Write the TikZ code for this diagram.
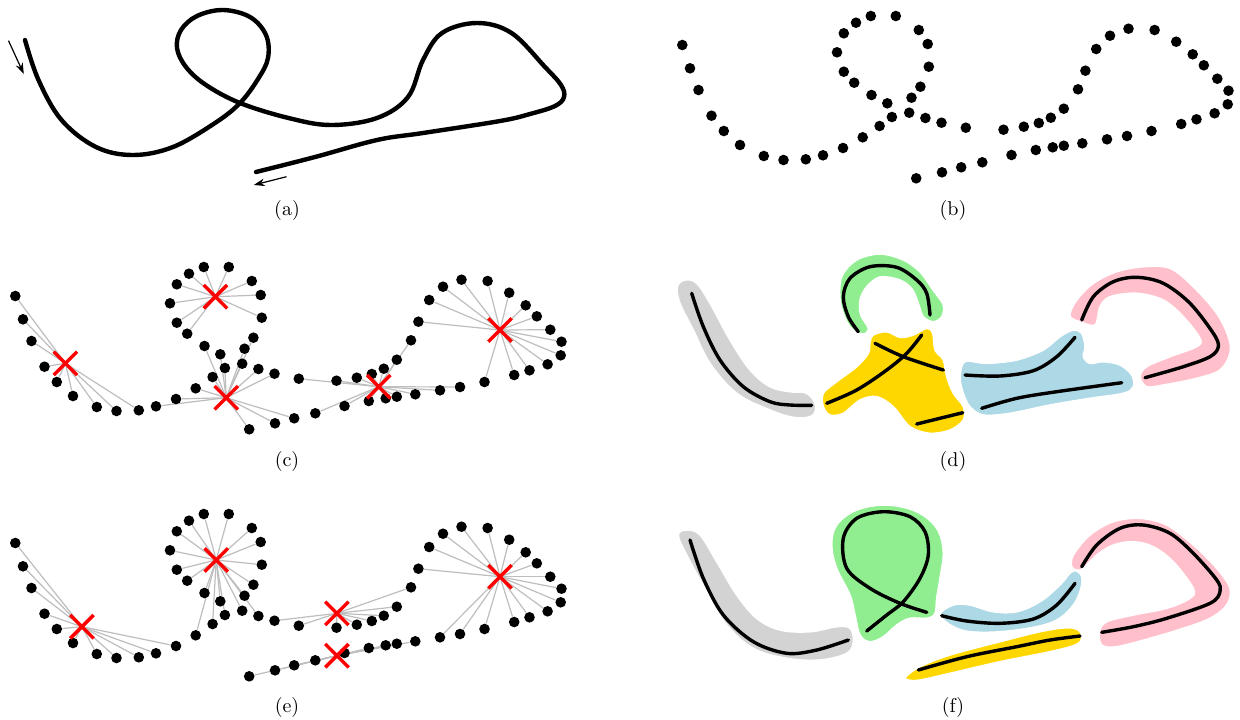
\documentclass[tikz,border=0pt]{standalone}
\usetikzlibrary{arrows.meta,shapes.misc}
\definecolor{blobgray}{RGB}{211,211,211}
\definecolor{blobgreen}{RGB}{144,238,144}
\definecolor{blobgold}{RGB}{255,215,0}
\definecolor{blobblue}{RGB}{173,216,230}
\definecolor{blobpink}{RGB}{255,192,203}
\definecolor{linkgray}{RGB}{190,190,190}
\pgfdeclarelayer{back}
\pgfdeclarelayer{bg}
\pgfdeclarelayer{fg}
\pgfsetlayers{back,bg,main,fg}
\begin{document}
\begin{tikzpicture}[x=0.5pt,y=-0.5pt,
  dotnode/.style={circle,fill=black,inner sep=0pt,minimum size=5.3pt},
  link/.style={draw=linkgray,line width=0.6pt},
  xmark/.style={cross out,draw=red,line width=1.7pt,inner sep=0pt,minimum size=10pt},
  thickcurve/.style={line width=2.2pt,line cap=round,line join=round},
  seg/.style={line width=1.7pt,line cap=round,line join=round},
  blob/.style={draw=white,line width=0.8pt},
  captext/.style={font=\normalsize,inner sep=0pt},
  arr/.style={line width=0.6pt,-{Stealth[length=5.5pt,width=3.8pt]}}]

\begin{pgfonlayer}{back}
\path[use as bounding box,fill=white] (0,0) rectangle (1240,719);
\end{pgfonlayer}

\def\dotlist{682.3/45,690/68.3,698.5/90,711.5/115.7,723.8/131,740/145,763.8/156,783.5/160,805.8/159.3,823/155.3,843/148,862.7/137.3,879.6/126,891.9/117,911.5/97.7,920.4/86.7,928.8/66.7,927.7/44,918.8/30,895.8/16,870.8/16,856/22.7,843.8/33.3,837/52.3,843.8/71.7,854.2/82.7,871.5/95,887.3/103.3,909.2/112.7,925.4/118,941.5/122.7,965.8/127.7,1003.5/129.7,1023.8/126.7,1038.8/123,1050.8/117.7,1063.8/108.7,1078/89.3,1085.4/70.7,1096.2/49,1110/35.7,1128.5/28.7,1154.6/30,1176.2/41.7,1192.7/54.3,1203.8/65.3,1217.3/78.7,1228.5/90.7,1227.7/104.3,1214.6/113.3,1196.5/119.3,1181.2/124,1151.5/131,1127/136,1107/139.3,1082.3/143.3,1063.8/145.7,1052.7/147.3,1035.8/150,1011.5/155,982.3/162.3,961.2/167.3,942/172.3,916.2/178.3}

% ---------- (a) ----------
\draw[thickcurve] plot[smooth,tension=0.6] coordinates {(25,40) (38.5,80) (61.5,120) (96,147) (133,155) (173,147) (215,123) (240,103) (258,79) (268,58) (266,35) (250,17) (223,10) (197,16) (181,30) (177,48) (186,67) (206,85) (240,103) (288.5,118) (331,125) (377,118) (408,97) (423,60) (442,33) (477,23) (511.5,33) (545,67) (561,85) (564,97) (555,106) (530,114) (500,121) (423,133) (377,140) (315,157) (256,172)};
\coordinate (a1s) at (8.5,40.7);
\coordinate (a1e) at (23.8,74);
\coordinate (a2s) at (286.5,176.7);
\coordinate (a2e) at (253.8,185);
\draw[arr] (a1s) -- (a1e);
\draw[arr] (a2s) -- (a2e);
\node[captext] (capa) at (287,210) {(a)};

% ---------- (b) ----------
\foreach \px/\py [count=\i] in \dotlist {\node[dotnode] (b\i) at (\px,\py) {};}
\node[captext] (capb) at (953,210) {(b)};

% ---------- (c) ----------
\begin{scope}[shift={(-667,251)}]
  \foreach \px/\py [count=\i] in \dotlist {\node[dotnode] (c\i) at (\px,\py) {};}
  \begin{pgfonlayer}{fg}
    \node[xmark] (cX1) at (732.4,112.3) {};
    \node[xmark] (cX2) at (882.4,45.7) {};
    \node[xmark] (cX3) at (893.2,146.7) {};
    \node[xmark] (cX4) at (1045.8,135.7) {};
    \node[xmark] (cX5) at (1167,79) {};
  \end{pgfonlayer}
  \begin{pgfonlayer}{bg}
    \foreach \i in {1,...,9} {\draw[link] (cX1.center) -- (c\i);}
    \foreach \i in {17,...,26} {\draw[link] (cX2.center) -- (c\i);}
    \foreach \i in {10,11,12,13,14,15,16,27,28,29,30,31,62,63,64} {\draw[link] (cX3.center) -- (c\i);}
    \foreach \i in {32,33,34,35,36,37,38,54,55,56,57,58,59,60,61} {\draw[link] (cX4.center) -- (c\i);}
    \foreach \i in {39,...,53} {\draw[link] (cX5.center) -- (c\i);}
  \end{pgfonlayer}
\end{scope}
\node[captext] (capc) at (287,461) {(c)};

% ---------- (e) ----------
\begin{scope}[shift={(-667,498)}]
  \foreach \px/\py [count=\i] in \dotlist {\node[dotnode] (e\i) at (\px,\py) {};}
  \begin{pgfonlayer}{fg}
    \node[xmark] (eX1) at (748.9,128.7) {};
    \node[xmark] (eX2) at (883.2,62) {};
    \node[xmark] (eX3) at (1003.9,115.3) {};
    \node[xmark] (eX4) at (1003.9,157.7) {};
    \node[xmark] (eX5) at (1167,78.7) {};
  \end{pgfonlayer}
  \begin{pgfonlayer}{bg}
    \foreach \i in {1,...,11} {\draw[link] (eX1.center) -- (e\i);}
    \foreach \i in {12,...,30} {\draw[link] (eX2.center) -- (e\i);}
    \foreach \i in {31,...,38} {\draw[link] (eX3.center) -- (e\i);}
    \foreach \i in {56,...,64} {\draw[link] (eX4.center) -- (e\i);}
    \foreach \i in {39,...,55} {\draw[link] (eX5.center) -- (e\i);}
  \end{pgfonlayer}
\end{scope}
\node[captext] (cape) at (287,707) {(e)};

% ---------- (d) ----------
\fill[blobgray,blob] plot[smooth cycle,tension=0.6] coordinates {(677.3,286.7) (685,280) (696.7,283.3) (710,303.3) (730,340) (750,370) (770,386.7) (790,391.7) (805,392.7) (813.3,400) (815.7,410) (810,416.7) (793.3,417.3) (770,410) (736.7,393.3) (710,363.3) (693.3,330) (680,303.3)};
\fill[blobgreen,blob] plot[smooth cycle,tension=0.55] coordinates {(863.3,334) (852,329) (845,318) (840,300) (841.7,276.7) (856.7,260) (880,254) (903.3,260) (920,272) (933,290) (943.3,305) (941.7,316.7) (933.3,321.7) (923.3,316.7) (918.3,303.3) (912,289) (900,280) (880,277) (866.7,286.7) (860,300) (860.7,315) (868.3,328.3)};
\fill[blobgold,blob] plot[smooth cycle,tension=0.55] coordinates {(873.3,335) (886.7,331.7) (900,337.3) (913.3,335) (926.7,328.3) (932.7,333.3) (935,350) (943.3,360) (946.7,376.7) (953.3,393.3) (963.3,406.7) (963.3,420) (950,430) (930,433.3) (910,426.7) (893.3,406.7) (876.7,396.7) (860,400) (843.3,413.3) (830,415) (823.3,406.7) (823.3,393.3) (836.7,381.7) (856.7,366.7) (868.3,353.3) (870,341.7)};
\fill[blobblue,blob] plot[smooth cycle,tension=0.55] coordinates {(965,361.7) (986.7,363.3) (1016.7,360) (1043.3,350) (1060,336.7) (1073.3,330) (1081.7,333.3) (1085,346.7) (1083.3,356.7) (1090,363.3) (1103.3,361.7) (1120,365) (1131.7,375) (1133.3,386.7) (1123.3,393.3) (1090,398.3) (1050,405) (1010,413.3) (983.3,415) (970,406.7) (963.3,393.3) (960,376.7)};
\fill[blobpink,blob] plot[smooth cycle,tension=0.55] coordinates {(1070,313.3) (1076.7,300) (1093.3,283.3) (1116.7,271.7) (1143.3,266.7) (1170,268.3) (1193.3,286.7) (1216.7,313.3) (1228.3,336.7) (1230,353.3) (1220,370) (1196.7,378.3) (1163.3,385) (1146.7,386.7) (1140,376.7) (1146.7,366.7) (1170,356.7) (1196.7,346.7) (1200,338.3) (1183.3,316.7) (1163.3,300) (1136.7,293.3) (1110,296.7) (1100,306.7) (1095,325) (1080,321.7) (1071.7,318.3)};
\draw[seg] plot[smooth,tension=0.55] coordinates {(691.7,293.3) (703.3,326.7) (720,360) (743.3,386.7) (770,401.7) (790,405) (811.7,405.3)};
\draw[seg] plot[smooth,tension=0.55] coordinates {(858.3,331.7) (848.3,316.7) (843.3,296.7) (850,278.3) (870,266.7) (896.7,267.3) (916.7,280) (926.7,293.3) (930,315)};
\draw[seg] plot[smooth,tension=0.55] coordinates {(826.7,403.3) (856.7,390) (886.7,370) (906.7,353.3) (921.7,335)};
\draw[seg] plot[smooth,tension=0.55] coordinates {(875,343.3) (903.3,356.7) (943.3,370)};
\draw[seg] plot[smooth,tension=0.55] coordinates {(916.7,424) (962.7,412.7)};
\draw[seg] plot[smooth,tension=0.55] coordinates {(965,375) (1000,376) (1033.3,370.7) (1056.7,356.7) (1075,337.3)};
\draw[seg] plot[smooth,tension=0.55] coordinates {(981.7,408.3) (1016.7,398.3) (1056.7,391.7) (1121.7,382.7)};
\draw[seg] plot[smooth,tension=0.55] coordinates {(1081.7,320) (1093.3,296.7) (1113.3,281.7) (1136.7,277.3) (1163.3,283.3) (1190,303.3) (1213.3,333.3) (1218.3,346.7) (1210,356.7) (1183.3,366.7) (1145,377.7)};
\node[captext] (capd) at (953,461) {(d)};

% ---------- (f) ----------
\fill[blobgray,blob] plot[smooth cycle,tension=0.6] coordinates {(678.3,535) (686.7,530) (700,535) (716.7,561.7) (736.7,595) (756.7,618.3) (780,630) (810,631.7) (836.7,626.7) (850,628.3) (853.3,641.7) (846.7,653.3) (820,660) (786.7,658.3) (753.3,648.3) (726.7,625) (706.7,591.7) (686.7,555)};
\fill[blobgreen,blob] plot[smooth cycle,tension=0.6] coordinates {(831.7,545) (836.7,525) (856.7,510) (886.7,505) (916.7,511.7) (936.7,528.3) (943.3,551.7) (940,578.3) (936.7,598.3) (935,613.3) (926.7,618.3) (910,618.3) (896.7,625) (883.3,636.7) (870,641.7) (860,635) (855,615) (850,595) (836.7,568.3)};
\fill[blobblue,blob] plot[smooth cycle,tension=0.6] coordinates {(940,615) (953.3,605) (970,605) (993.3,611.7) (1016.7,611.7) (1040,601.7) (1060,585) (1071.7,571.7) (1080,573.3) (1081.7,585) (1073.3,605) (1053.3,621.7) (1016.7,630) (980,632.3) (956.7,628.3)};
\fill[blobgold,blob] plot[smooth cycle,tension=0.6] coordinates {(906,676.7) (920,666.7) (950,655) (1000,641.7) (1040,631.7) (1066.7,627.7) (1078.3,630) (1081.7,636.7) (1076.7,644.3) (1050,651.7) (1000,661.7) (950,673.3) (920,680) (908.3,680)};
\fill[blobpink,blob] plot[smooth cycle,tension=0.55] coordinates {(1071.7,566.7) (1073.3,555) (1090,535) (1113.3,521.7) (1140,518.3) (1166.7,525) (1193.3,545) (1216.7,568.3) (1230,588.3) (1226.7,605) (1210,618.3) (1183.3,628.3) (1150,638.3) (1116.7,646.7) (1101.7,645) (1099.3,631.7) (1106.7,621.7) (1133.3,615) (1166.7,608.3) (1190,598.3) (1193.3,588.3) (1173.3,561.7) (1153.3,546.7) (1133.3,541.7) (1113.3,545) (1096.7,555) (1083.3,568.3) (1076.7,570)};
\draw[seg] plot[smooth,tension=0.55] coordinates {(690,540) (703.3,578.3) (723.3,615) (753.3,641.7) (786.7,653.3) (816.7,650) (848.3,640)};
\draw[seg] plot[smooth,tension=0.55] coordinates {(866.7,631) (886.7,615) (903.3,601.7) (920,578.3) (928.3,555) (925,531.7) (910,516.7) (883.3,511.7) (856.7,518.3) (843.3,538.3) (846.7,568.3) (870,588.3) (900,603.3) (926.7,612.3)};
\draw[seg] plot[smooth,tension=0.55] coordinates {(941.7,615.7) (966.7,621) (1000,623.3) (1033.3,619) (1056.7,605) (1075,583.3)};
\draw[seg] plot[smooth,tension=0.55] coordinates {(918.3,670) (966.7,656.7) (1016.7,646.7) (1050,640) (1080,636)};
\draw[seg] plot[smooth,tension=0.55] coordinates {(1081.7,566.7) (1096.7,545) (1120,528.3) (1143.3,525) (1170,533.3) (1193.3,553.3) (1216.7,580) (1220,591.7) (1210,603.3) (1166.7,618.3) (1133.3,626.7) (1101.7,632.3)};
\node[captext] (capf) at (953,707) {(f)};
\end{tikzpicture}
\end{document}
